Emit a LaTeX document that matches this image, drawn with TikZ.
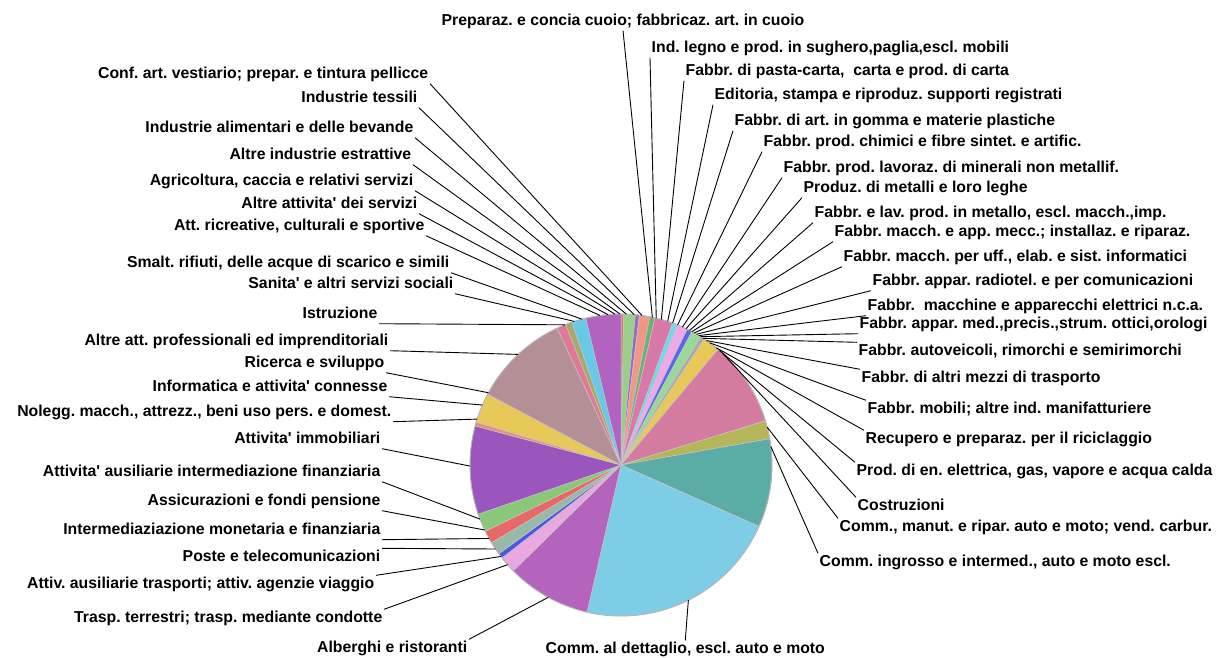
\documentclass[tikz,border=0pt]{standalone}
\usepackage{fontspec}
\setmainfont{Liberation Sans}[Ligatures=TeXOff]
\begin{document}
\frenchspacing
\begin{tikzpicture}[x=1pt,y=-1pt,
  lbl/.style={inner sep=1.5pt,text height=11.5pt,text depth=3.5pt,font=\fontsize{15.8}{18}\selectfont\bfseries},
  ld/.style={line width=0.9pt,black},
  slicesep/.style={draw=gray!45,line width=0.5pt}]
\fill[white] (0,0) rectangle (1219,657);
\useasboundingbox (0,0) rectangle (1219,657);
% pie
\begin{scope}[shift={(621,465)}]
\foreach \a/\b/\c in {-90/-89/E07850,-89/-84.5/98D088,-84.5/-83/9868C8,-83/-79/F09888,-79/-77/70B070,
 -77/-70/D878A8,-70/-68/70D8E8,-68/-64/F0A8E8,-64/-62/5868E8,-62/-58/98D898,-58/-56.5/A8A8A8,
 -56.5/-50/E8C858,-50/-17/D47CA0,-17/-10/B5B55A,-10/24/5CACA6,24/103/7ECDE6,103/135.5/B464BC,
 135.5/142/E8A8E0,142/144/4858E0,144/149/98B8A8,149/154/E86868,154/161/88C878,161/195/9A56BC,
 195/196.5/E89080,196.5/208/E8C858,208/245/B49096,245/248.5/E07898,248.5/251/A8A868,
 251/256.5/68C8E8,256.5/270/B064C0}{
  \definecolor{slicecol}{HTML}{\c}
  \fill[slicecol,slicesep] (0,0) -- plot[domain=\a:\b,samples=40] ({151*cos(\x)},{151*sin(\x)}) -- cycle;
}
\draw[gray!60,line width=0.8pt] (0,0) circle (151);
% leader end points on the pie edge
\foreach \n/\t in {r1/-78,r2/-76.5,r3/-74.5,r4/-72,r5/-70,r6/-68,r7/-66,r8/-64.5,r9/-63,r10/-62,
 r11/-61,r12/-60,r13/-59,r14/-58.2,r15/-57,r16/-55.5,r17/-54,r18/-51,r19/-49.3,r20/-47.7,
 r21/-14.5,r22/-7,r23/63.5,
 l1/-82,l2/-85,l3/-88,l4/269.6,l5/267.7,l6/265,l7/262,l8/255,l9/252,l10/248.2,l11/227.1,
 l12/208.6,l13/203.4,l14/197.7,l15/179.6,l16/159,l17/154.5,l18/150.9,l19/146.2,l20/142.7,
 l21/138.7,l22/118.8}{
  \coordinate (e\n) at (\t:151);
}
\end{scope}
% right labels
\node[lbl,anchor=base west] (r1) at (440,25.5) {Preparaz. e concia cuoio; fabbricaz. art. in cuoio};
\node[lbl,anchor=base west] (r2) at (650,52.5) {Ind. legno e prod. in sughero,paglia,escl. mobili};
\node[lbl,anchor=base west] (r3) at (684,75.5) {Fabbr. di pasta-carta,\ \ carta e prod. di carta};
\node[lbl,anchor=base west] (r4) at (713,99.5) {Editoria, stampa e riproduz. supporti registrati};
\node[lbl,anchor=base west] (r5) at (733,125.5) {Fabbr. di art. in gomma e materie plastiche};
\node[lbl,anchor=base west] (r6) at (762,146.5) {Fabbr. prod. chimici e fibre sintet. e artific.};
\node[lbl,anchor=base west] (r7) at (782,172.5) {Fabbr. prod. lavoraz. di minerali non metallif.};
\node[lbl,anchor=base west] (r8) at (802,192.5) {Produz. di metalli e loro leghe};
\node[lbl,anchor=base west] (r9) at (813,217.5) {Fabbr. e lav. prod. in metallo, escl. macch.,imp.};
\node[lbl,anchor=base west] (r10) at (833,236.5) {Fabbr. macch. e app. mecc.; installaz. e riparaz.};
\node[lbl,anchor=base west] (r11) at (842,261.5) {Fabbr. macch. per uff., elab. e sist. informatici};
\node[lbl,anchor=base west] (r12) at (871,285.5) {Fabbr. appar. radiotel. e per comunicazioni};
\node[lbl,anchor=base west] (r13) at (866,310.5) {Fabbr.\ \ macchine e apparecchi elettrici n.c.a.};
\node[lbl,anchor=base west] (r14) at (858,328.5) {Fabbr. appar. med.,precis.,strum. ottici,orologi};
\node[lbl,anchor=base west] (r15) at (857,355.5) {Fabbr. autoveicoli, rimorchi e semirimorchi};
\node[lbl,anchor=base west] (r16) at (860,382.5) {Fabbr. di altri mezzi di trasporto};
\node[lbl,anchor=base west] (r17) at (866,413.5) {Fabbr. mobili; altre ind. manifatturiere};
\node[lbl,anchor=base west] (r18) at (864,443.5) {Recupero e preparaz. per il riciclaggio};
\node[lbl,anchor=base west] (r19) at (855,475.5) {Prod. di en. elettrica, gas, vapore e acqua calda};
\node[lbl,anchor=base west] (r20) at (856,510.5) {Costruzioni};
\node[lbl,anchor=base west] (r21) at (838,531.5) {Comm., manut. e ripar. auto e moto; vend. carbur.};
\node[lbl,anchor=base west] (r22) at (818,566.5) {Comm. ingrosso e intermed., auto e moto escl.};
\node[lbl,anchor=base west] (r23) at (544,653.5) {Comm. al dettaglio, escl. auto e moto};
% left labels
\node[lbl,anchor=base east] (l1) at (430,78.5) {Conf. art. vestiario; prepar. e tintura pellicce};
\node[lbl,anchor=base east] (l2) at (419,102.5) {Industrie tessili};
\node[lbl,anchor=base east] (l3) at (415,132.5) {Industrie alimentari e delle bevande};
\node[lbl,anchor=base east] (l4) at (413,159.5) {Altre industrie estrattive};
\node[lbl,anchor=base east] (l5) at (415,185.5) {Agricoltura, caccia e relativi servizi};
\node[lbl,anchor=base east] (l6) at (419,208.5) {Altre attivita' dei servizi};
\node[lbl,anchor=base east] (l7) at (426,230.5) {Att. ricreative, culturali e sportive};
\node[lbl,anchor=base east] (l8) at (451,267.5) {Smalt. rifiuti, delle acque di scarico e simili};
\node[lbl,anchor=base east] (l9) at (455,288.5) {Sanita' e altri servizi sociali};
\node[lbl,anchor=base east] (l10) at (379,318.5) {Istruzione};
\node[lbl,anchor=base east] (l11) at (390,345.5) {Altre att. professionali ed imprenditoriali};
\node[lbl,anchor=base east] (l12) at (386,367.5) {Ricerca e sviluppo};
\node[lbl,anchor=base east] (l13) at (389,391.5) {Informatica e attivita' connesse};
\node[lbl,anchor=base east] (l14) at (393,416.5) {Nolegg. macch., attrezz., beni uso pers. e domest.};
\node[lbl,anchor=base east] (l15) at (382,443.5) {Attivita' immobiliari};
\node[lbl,anchor=base east] (l16) at (382,476.5) {Attivita' ausiliarie intermediazione finanziaria};
\node[lbl,anchor=base east] (l17) at (382,505.5) {Assicurazioni e fondi pensione};
\node[lbl,anchor=base east] (l18) at (382,534.5) {Intermediaziazione monetaria e finanziaria};
\node[lbl,anchor=base east] (l19) at (382,561.5) {Poste e telecomunicazioni};
\node[lbl,anchor=base east] (l20) at (376,588.5) {Attiv. ausiliarie trasporti; attiv. agenzie viaggio};
\node[lbl,anchor=base east] (l21) at (384,622.5) {Trasp. terrestri; trasp. mediante condotte};
\node[lbl,anchor=base east] (l22) at (469,652.5) {Alberghi e ristoranti};
% leader lines
\draw[ld] (r1.south) -- (er1);
\foreach \n in {r2,r3,r4,r5,r6,r7,r8,r9,r10,r11,r12,r13,r14}{\draw[ld] (\n.south west) -- (e\n);}
\foreach \n in {r15,r16,r17,r18,r19,r20,r21,r22}{\draw[ld] (\n.north west) -- (e\n);}
\draw[ld] (r23.north) -- (er23);
\foreach \n in {l1,l2,l3,l4,l5,l6,l7,l8,l9,l10,l11,l12,l13,l14,l15,l16,l17,l18}{\draw[ld] (\n.south east) -- (e\n);}
\foreach \n in {l19,l20,l21,l22}{\draw[ld] (\n.north east) -- (e\n);}
\end{tikzpicture}
\end{document}
